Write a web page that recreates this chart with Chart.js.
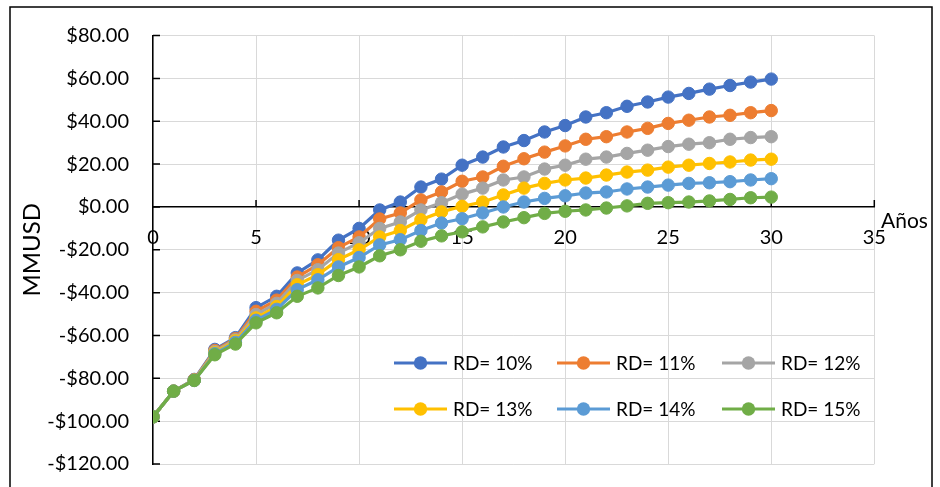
<!DOCTYPE html>
<html>
<head>
<meta charset="utf-8">
<script src="https://cdn.jsdelivr.net/npm/chart.js@4/dist/chart.umd.min.js"></script>
<style>
  html, body { margin: 0; padding: 0; background: #ffffff; }
  #wrap { width: 940px; height: 487px; position: relative; }
</style>
</head>
<body>
<div id="wrap"><canvas id="c" width="940" height="487"></canvas></div>
<script>
// Years of the project horizon
const years = [0,1,2,3,4,5,6,7,8,9,10,11,12,13,14,15,16,17,18,19,20,21,22,23,24,25,26,27,28,29,30];

// Cumulative NPV (MMUSD) for each discount rate
const rd10 = [-98,-86,-80.5,-66.5,-61,-47,-41.7,-30.8,-24.7,-15.5,-10,-1.4,2.3,9.3,13,19.5,23.3,28,31,35,38,42,44,47,49,51.3,53,55,56.7,58.3,59.7];
const rd11 = [-98,-86,-80.7,-67,-61.5,-48.7,-43.5,-32.7,-27,-19,-14,-5.6,-2.8,3.3,7,12,14,19,22.5,25.6,28.5,31.6,32.8,35,36.7,39,40.5,42,42.8,44,45];
const rd12 = [-98,-86,-80.8,-67.5,-62,-50.2,-45,-34.3,-29.3,-21.5,-16.7,-10,-7,-1.4,2,6,8.8,12.6,14,17.7,19.5,22.3,23.3,25,26.5,28.2,29.3,30,31.6,32.4,32.8];
const rd13 = [-98,-86,-80.9,-68,-62.5,-51.8,-46.5,-36.3,-31.6,-24.6,-20,-14,-11,-6,-2.3,0.3,2.3,5.6,8.8,11,12.6,13.5,14.9,16.3,17.2,18.6,19.5,20.3,21,21.9,22.3];
const rd14 = [-98,-86,-81,-68.5,-63.2,-52.9,-47.8,-38.6,-34,-28,-23.6,-17.7,-15.3,-11,-7.5,-5.5,-2.8,0,2.3,4,5.2,6.5,7,8.4,9.3,10.2,11,11.3,11.8,12.6,13.2];
const rd15 = [-98,-86,-81,-69,-64,-54.1,-49.4,-41.7,-37.8,-32,-28,-22.8,-20,-16,-13.5,-11.6,-9.3,-7,-5,-3,-2,-1.4,-0.5,0.5,1.7,2,2.3,2.8,3.5,4.3,4.6];

const seriesNames = ['RD= 10%','RD= 11%','RD= 12%','RD= 13%','RD= 14%','RD= 15%'];
const seriesValues = [rd10, rd11, rd12, rd13, rd14, rd15];
const seriesColors = ['#4472C4','#ED7D31','#A5A5A5','#FFC000','#5B9BD5','#70AD47'];

// Axis tick labels
const xTickLabels = ['0','5','10','15','20','25','30','35'];
const yTickLabels = ['-$120.00','-$100.00','-$80.00','-$60.00','-$40.00','-$20.00','$0.00','$20.00','$40.00','$60.00','$80.00'];

const FONT = 'Lato, "Open Sans", "Liberation Sans", sans-serif';

const datasets = seriesValues.map((vals, i) => ({
  label: seriesNames[i],
  data: years.map((yr, k) => ({ x: yr, y: vals[k] })),
  borderColor: seriesColors[i],
  backgroundColor: seriesColors[i],
  pointBackgroundColor: seriesColors[i],
  pointBorderColor: seriesColors[i],
  borderWidth: 3.2,
  pointRadius: 6.2,
  pointBorderWidth: 1,
  pointHoverRadius: 6.2,
  tension: 0,
  order: seriesValues.length - i   // later series drawn on top
}));

// Frame, inward tick marks, axis caption and in-plot legend
const decorations = {
  id: 'decorations',
  beforeDraw(chart) {
    const ctx = chart.ctx;
    ctx.save();
    ctx.fillStyle = '#ffffff';
    ctx.fillRect(0, 0, chart.width, chart.height);
    ctx.restore();
  },
  beforeDatasetsDraw(chart) {
    const ctx = chart.ctx;
    const xs = chart.scales.x, ys = chart.scales.y;
    const ca = chart.chartArea;
    const y0 = ys.getPixelForValue(0);
    ctx.save();
    ctx.strokeStyle = '#000000';
    ctx.lineWidth = 1.5;
    ctx.beginPath();
    ys.ticks.forEach(t => {
      const py = ys.getPixelForValue(t.value);
      ctx.moveTo(ca.left, py);
      ctx.lineTo(ca.left + 7, py);
    });
    xs.ticks.forEach(t => {
      if (t.value === 0) return;
      const px = xs.getPixelForValue(t.value);
      ctx.moveTo(px, y0);
      ctx.lineTo(px, y0 - 7);
    });
    ctx.stroke();
    ctx.restore();
  },
  afterDraw(chart) {
    const ctx = chart.ctx;
    ctx.save();
    // chart frame
    ctx.strokeStyle = '#000000';
    ctx.lineWidth = 1.5;
    ctx.strokeRect(10, 7, 922, 500);

    // x axis caption
    ctx.fillStyle = '#000000';
    ctx.font = '21px ' + FONT;
    ctx.textAlign = 'left';
    ctx.textBaseline = 'alphabetic';
    ctx.fillText('Años', 881, 228);

    // legend: two rows of three entries
    const colX = [394, 557, 722];
    const rowY = [363, 409];
    ctx.font = '19px ' + FONT;
    ctx.textBaseline = 'middle';
    chart.data.datasets.forEach((ds, i) => {
      const lx = colX[i % 3];
      const ly = rowY[Math.floor(i / 3)];
      ctx.strokeStyle = ds.borderColor;
      ctx.lineWidth = 3.2;
      ctx.beginPath();
      ctx.moveTo(lx, ly);
      ctx.lineTo(lx + 53, ly);
      ctx.stroke();
      ctx.fillStyle = ds.borderColor;
      ctx.beginPath();
      ctx.arc(lx + 26.5, ly, 6.7, 0, Math.PI * 2);
      ctx.fill();
      ctx.fillStyle = '#000000';
      ctx.fillText(ds.label, lx + 59, ly + 1);
    });
    ctx.restore();
  }
};

new Chart(document.getElementById('c'), {
  type: 'line',
  data: { datasets },
  options: {
    responsive: false,
    animation: false,
    events: [],
    layout: { padding: { left: 0, top: 35.6, right: 65.7, bottom: 23 } },
    plugins: { legend: { display: false }, tooltip: { enabled: false } },
    scales: {
      x: {
        type: 'linear',
        position: { y: 0 },
        min: 0, max: 35,
        ticks: {
          stepSize: 5,
          color: '#000000',
          font: { family: FONT, size: 20 },
          padding: 19,
          callback: (v, i) => xTickLabels[i]
        },
        grid: { color: '#d9d9d9', lineWidth: 1, drawTicks: false },
        border: { color: '#000000', width: 1.5 }
      },
      y: {
        type: 'linear',
        position: 'left',
        min: -120, max: 80,
        afterFit: (scale) => {
          scale.width = 153;
          scale.paddingTop = 0;
          scale.paddingBottom = 0;
        },
        ticks: {
          stepSize: 20,
          color: '#000000',
          font: { family: FONT, size: 20 },
          padding: 24,
          callback: (v, i) => yTickLabels[i]
        },
        grid: { color: '#d9d9d9', lineWidth: 1, drawTicks: false },
        border: { color: '#000000', width: 1.5 },
        title: {
          display: true,
          text: 'MMUSD',
          color: '#000000',
          font: { family: FONT, size: 24 },
          padding: { top: 18, bottom: 0 }
        }
      }
    }
  },
  plugins: [decorations]
});
</script>
</body>
</html>
